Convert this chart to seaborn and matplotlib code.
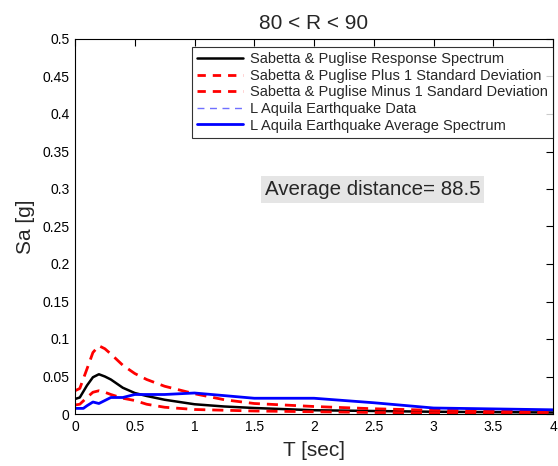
import matplotlib
matplotlib.use("Agg")
import matplotlib.pyplot as plt
import seaborn as sns
import pandas as pd
import numpy as np
from matplotlib.lines import Line2D

# ---- data ----
T_sp = [0, 0.04, 0.1, 0.15, 0.2, 0.25, 0.3, 0.4, 0.5, 0.6, 0.75, 1.0, 1.25, 1.5, 2.0, 2.5, 3.0, 3.5, 4.0]
sp_mean = [0.020, 0.022, 0.038, 0.049, 0.053, 0.050, 0.046, 0.035, 0.028, 0.024, 0.019, 0.013, 0.010, 0.008, 0.005, 0.004, 0.003, 0.0025, 0.002]
sp_plus = [0.031, 0.034, 0.060, 0.082, 0.091, 0.087, 0.080, 0.065, 0.054, 0.046, 0.037, 0.027, 0.019, 0.014, 0.010, 0.007, 0.005, 0.004, 0.003]
sp_minus = [0.012, 0.013, 0.022, 0.029, 0.031, 0.029, 0.026, 0.021, 0.018, 0.013, 0.009, 0.006, 0.005, 0.004, 0.003, 0.002, 0.0015, 0.0012, 0.001]

T_avg = [0, 0.07, 0.1, 0.15, 0.2, 0.25, 0.3, 0.4, 0.5, 0.75, 1.0, 1.5, 2.0, 2.5, 3.0, 4.0]
aq_avg = [0.0075, 0.0075, 0.011, 0.016, 0.014, 0.018, 0.022, 0.022, 0.026, 0.026, 0.028, 0.021, 0.021, 0.015, 0.008, 0.0056]

aq_data_T = []
aq_data_v = []

labels = ["Sabetta & Puglise Response Spectrum",
          "Sabetta & Puglise Plus 1 Standard Deviation",
          "Sabetta & Puglise Minus 1 Sandard Deviation",
          "L Aquila Earthquake Data",
          "L Aquila Earthquake Average Spectrum"]
title = "80 < R < 90"
annotation = "Average distance= 88.5"
xticks = [0, 0.5, 1, 1.5, 2, 2.5, 3, 3.5, 4]
yticks = [0, 0.05, 0.1, 0.15, 0.2, 0.25, 0.3, 0.35, 0.4, 0.45, 0.5]

sns.set_style("white")
plt.rcParams['font.family'] = ['Liberation Sans', 'DejaVu Sans']

fig = plt.figure(figsize=(5.58, 4.66), dpi=100)
ax = fig.add_axes([75/558, 1-414/466, 478/558, 375/466])

sns.lineplot(x=T_sp, y=sp_mean, ax=ax, color='black', lw=1.8, label=labels[0])
sns.lineplot(x=T_sp, y=sp_plus, ax=ax, color='red', lw=2, label=labels[1])
sns.lineplot(x=T_sp, y=sp_minus, ax=ax, color='red', lw=2, label=labels[2])
sns.lineplot(x=aq_data_T, y=aq_data_v, ax=ax, color='#7070ff', lw=1, label=labels[3])
sns.lineplot(x=T_avg, y=aq_avg, ax=ax, color='blue', lw=2, label=labels[4])

for ln in ax.get_lines():
    if ln.get_label() in (labels[1], labels[2]):
        ln.set_dashes((4, 2.5))
    elif ln.get_label() == labels[3]:
        ln.set_dashes((4, 3))

ax.set_xlim(0, 4)
ax.set_ylim(0, 0.5)
ax.set_xticks(xticks)
ax.set_xticklabels([f"{v:g}" for v in xticks])
ax.set_yticks(yticks)
ax.set_yticklabels([f"{v:g}" for v in yticks])
ax.tick_params(direction='in', top=True, right=True, length=5, width=0.8, labelsize=10, colors='black', pad=4)
for s in ax.spines.values():
    s.set_visible(True)
    s.set_color('black')
    s.set_linewidth(0.8)
ax.set_xlabel("T [sec]", fontsize=15, labelpad=5)
ax.set_ylabel("Sa [g]", fontsize=15, labelpad=5)
ax.set_title(title, fontsize=15, pad=7)

ax.text(2.49, 0.299, annotation, fontsize=14.8, ha='center', va='center',
        bbox=dict(facecolor='#e5e5e5', edgecolor='none', pad=3))

handles = [Line2D([], [], color='black', lw=1.8),
           Line2D([], [], color='red', lw=2, dashes=(3, 2.5)),
           Line2D([], [], color='red', lw=2, dashes=(3, 2.5)),
           Line2D([], [], color='#7070ff', lw=1, dashes=(5, 4)),
           Line2D([], [], color='blue', lw=2)]
leg = ax.legend(handles, labels, loc='upper right', bbox_to_anchor=(1.0, 1 - 8/375),
                borderaxespad=0, fontsize=10.5, frameon=True, fancybox=False,
                handlelength=3.2, handletextpad=0.45, labelspacing=0.18,
                borderpad=0.35)
leg.get_frame().set_edgecolor('black')
leg.get_frame().set_linewidth(0.8)

fig.savefig("out.png", dpi=100)
